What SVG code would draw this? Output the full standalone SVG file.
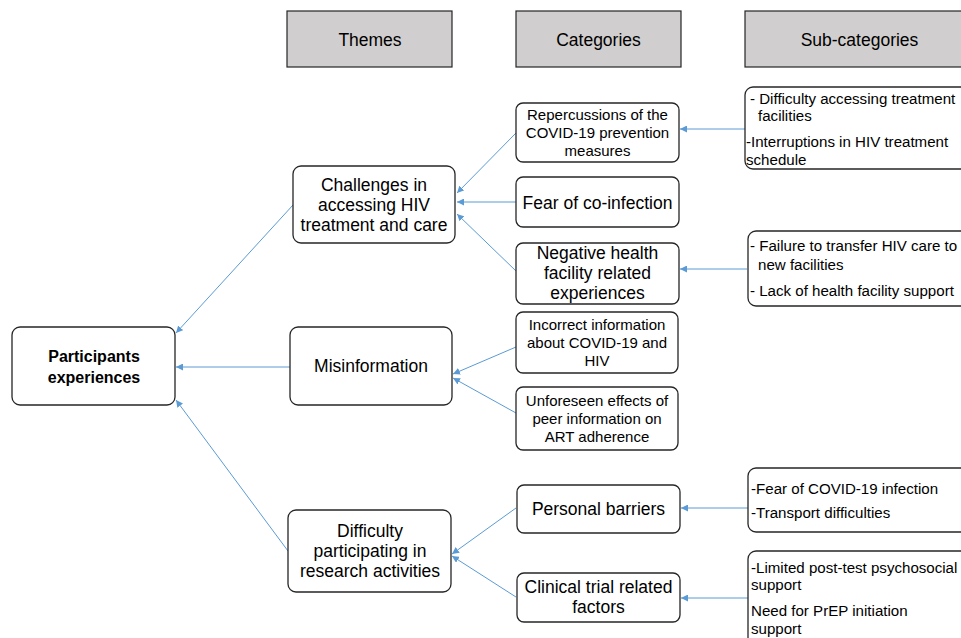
<svg xmlns="http://www.w3.org/2000/svg" width="961" height="638" viewBox="0 0 961 638">
<style>
text{font-family:"Liberation Sans",Arial,sans-serif;fill:#000}
.hdr rect{fill:#d0cece;stroke:#262626;stroke-width:1.2}
.box{fill:#fff;stroke:#262626;stroke-width:1.3}
.t17{font-size:17.5px;text-anchor:middle}
.t15{font-size:15px;text-anchor:middle}
.sub{font-size:15.1px}
.b{font-weight:bold;font-size:16px;text-anchor:middle}
.con path{fill:none;stroke:#5b9bd5;stroke-width:1;marker-end:url(#ah)}
</style>
<defs>
<marker id="ah" markerUnits="userSpaceOnUse" viewBox="0 0 10 10" refX="10" refY="5" markerWidth="7" markerHeight="7" orient="auto">
<path d="M0,0 L10,5 L0,10 z" fill="#5b9bd5"/>
</marker>
</defs>
<rect width="961" height="638" fill="#fff"/>

<g id="hdr-themes" class="hdr"><rect x="287" y="11" width="165" height="56"/><text class="t17" x="370" y="46">Themes</text></g>
<g id="hdr-categories" class="hdr"><rect x="516" y="11" width="165" height="56"/><text class="t17" x="598.5" y="46">Categories</text></g>
<g id="hdr-subcategories" class="hdr"><rect x="745" y="11" width="230" height="56"/><text class="t17" x="859.5" y="46">Sub-categories</text></g>

<g class="con" id="connectors">
<path d="M745,129 L680,129"/>
<path d="M747,269 L680,269"/>
<path d="M748,508 L681,508"/>
<path d="M748,598 L681,598"/>
<path d="M516,133 L457,193"/>
<path d="M516,202 L457,202"/>
<path d="M516,271 L457,214"/>
<path d="M516,347 L453,374"/>
<path d="M516,413 L453,378"/>
<path d="M516,508 L452,554"/>
<path d="M516,597 L452,556"/>
<path d="M293,205 L176,333"/>
<path d="M290,367 L176,367"/>
<path d="M288,551 L176,400"/>
</g>

<g id="participants"><rect class="box" x="12" y="327" width="163" height="78" rx="8"/><text class="b" x="94" y="362">Participants</text><text class="b" x="94" y="382.5">experiences</text></g>

<g id="challenges"><rect class="box" x="293" y="166" width="162" height="77" rx="8"/><text class="t17" x="374" y="190.5">Challenges in</text><text class="t17" x="374" y="210.5">accessing HIV</text><text class="t17" x="374" y="231">treatment and care</text></g>
<g id="misinformation"><rect class="box" x="290" y="327" width="162" height="78" rx="8"/><text class="t17" x="371" y="372">Misinformation</text></g>
<g id="difficulty"><rect class="box" x="288" y="510" width="163" height="82" rx="8"/><text class="t17" x="370" y="537">Difficulty</text><text class="t17" x="370" y="557">participating in</text><text class="t17" x="370" y="577">research activities</text></g>

<g id="repercussions"><rect class="box" x="516" y="103" width="163" height="59" rx="7"/><text class="t15" x="597.5" y="119.5">Repercussions of the</text><text class="t15" x="597.5" y="138">COVID-19 prevention</text><text class="t15" x="597.5" y="156">measures</text></g>
<g id="fear-coinfection"><rect class="box" x="516" y="177" width="163" height="50" rx="7"/><text class="t17" x="597.5" y="208.5">Fear of co-infection</text></g>
<g id="negative-health"><rect class="box" x="516" y="243" width="163" height="61" rx="7"/><text class="t17" x="597.5" y="258.7">Negative health</text><text class="t17" x="597.5" y="278.7">facility related</text><text class="t17" x="597.5" y="299">experiences</text></g>
<g id="incorrect-info"><rect class="box" x="516" y="312" width="162" height="61" rx="7"/><text class="t15" x="597" y="329.5">Incorrect information</text><text class="t15" x="597" y="347.5">about COVID-19 and</text><text class="t15" x="597" y="365.8">HIV</text></g>
<g id="unforeseen"><rect class="box" x="516" y="387" width="162" height="63" rx="7"/><text class="t15" x="597" y="405.5">Unforeseen effects of</text><text class="t15" x="597" y="424">peer information on</text><text class="t15" x="597" y="442">ART adherence</text></g>
<g id="personal-barriers"><rect class="box" x="517" y="485" width="163" height="48" rx="7"/><text class="t17" x="598.5" y="514.5">Personal barriers</text></g>
<g id="clinical-trial"><rect class="box" x="517" y="573" width="163" height="49" rx="7"/><text class="t17" x="598.5" y="593">Clinical trial related</text><text class="t17" x="598.5" y="613">factors</text></g>

<g id="sub-repercussions"><rect class="box" x="745" y="87" width="240" height="82" rx="8"/><text class="sub" x="750" y="104">- Difficulty accessing treatment</text><text class="sub" x="758" y="121">facilities</text><text class="sub" x="746" y="146.5">-Interruptions in HIV treatment</text><text class="sub" x="746" y="164.5">schedule</text></g>
<g id="sub-negative"><rect class="box" x="748" y="231" width="240" height="75" rx="8"/><text class="sub" x="750" y="251">- Failure to transfer HIV care to</text><text class="sub" x="758" y="269.8">new facilities</text><text class="sub" x="750" y="295.5">- Lack of health facility support</text></g>
<g id="sub-personal"><rect class="box" x="748" y="468" width="240" height="64" rx="8"/><text class="sub" x="751" y="493.5">-Fear of COVID-19 infection</text><text class="sub" x="751" y="518">-Transport difficulties</text></g>
<g id="sub-clinical"><rect class="box" x="748" y="551" width="240" height="110" rx="8"/><text class="sub" x="751" y="572.5">-Limited post-test psychosocial</text><text class="sub" x="751" y="590">support</text><text class="sub" x="751" y="616">Need for PrEP initiation</text><text class="sub" x="751" y="633.5">support</text></g>
</svg>
